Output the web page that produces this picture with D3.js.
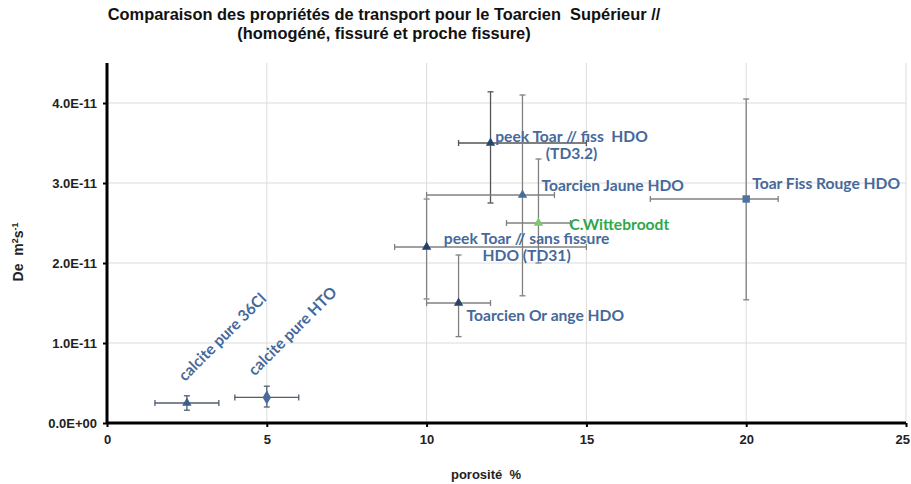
<!DOCTYPE html>
<html><head><meta charset="utf-8">
<script src="https://cdn.jsdelivr.net/npm/d3@7/dist/d3.min.js"></script>
<style>body{margin:0;background:#fff}</style>
</head><body>
<svg id="c" width="911" height="484"></svg>
<script>
// ---- data ----
const names = ["calcite pure 36Cl", "calcite pure HTO", "peek Toar // fiss  HDO|(TD3.2)", "Toarcien Jaune HDO", "C.Wittebroodt", "peek Toar // sans fissure|HDO (TD31)", "Toarcien Or ange HDO", "Toar Fiss Rouge HDO"];
const porosity = [2.5, 5, 12, 13, 13.5, 10, 11, 20];
const porosityErrMinus = [1, 1, 1, 3, 1, 1, 1, 3];
const porosityErrPlus = [1, 1, 3, 1, 1, 5, 1, 1];
const De = [0.25e-11, 0.32e-11, 3.5e-11, 2.85e-11, 2.5e-11, 2.2e-11, 1.5e-11, 2.8e-11];
const DeErrMinus = [0.09e-11, 0.12e-11, 0.75e-11, 1.26e-11, 0.5e-11, 0.65e-11, 0.42e-11, 1.26e-11];
const DeErrPlus = [0.09e-11, 0.14e-11, 0.64e-11, 1.25e-11, 0.8e-11, 0.6e-11, 0.6e-11, 1.25e-11];
const markerShapes = ["triangle", "diamond", "triangle", "triangle", "triangle", "triangle", "triangle", "square"];
const xTicks = [0, 5, 10, 15, 20, 25];
const yTicks = [0, 1e-11, 2e-11, 3e-11, 4e-11];
const yTickLabels = ["0.0E+00", "1.0E-11", "2.0E-11", "3.0E-11", "4.0E-11"];

// ---- layout / style ----
const labelLayout = [
  {dx: -2, dy: -21, anchor: "start", rotate: -45},
  {dx: -12, dy: -21, anchor: "start", rotate: -45},
  {dx: 81, dy: -1, anchor: "middle", lh: 17},
  {dx: 19, dy: -4, anchor: "start"},
  {dx: 31, dy: 7, anchor: "start", color: "#2ea84a"},
  {dx: 100, dy: -3, anchor: "middle", lh: 17},
  {dx: 8, dy: 18, anchor: "start"},
  {dx: 6, dy: -10, anchor: "start"}
];
const markerColors = ["#3d5f8c", "#4a6c9a", "#24496f", "#4a6c9a", "#7cc86a", "#24406a", "#2a4468", "#4f72a0"];
const barColors = ["#4f5d72", "#4f5d72", "#555", "#808080", "#808080", "#808080", "#808080", "#808080"];

const svg = d3.select("#c");
const L = 107, R = 906, T = 63, B = 423;
const x = d3.scaleLinear().domain([0, 25]).range([L, R]);
const y = d3.scaleLinear().domain([0, 4.5e-11]).range([B, T]);

// grid
svg.append("g").selectAll("line").data(xTicks.slice(1)).join("line")
  .attr("x1", d => x(d)).attr("x2", d => x(d)).attr("y1", B).attr("y2", T)
  .attr("stroke", "#dcdcdc").attr("stroke-width", 1);
svg.append("g").selectAll("line").data(yTicks.slice(1)).join("line")
  .attr("x1", L).attr("x2", R).attr("y1", d => y(d)).attr("y2", d => y(d))
  .attr("stroke", "#dcdcdc").attr("stroke-width", 1);

// axes
const fontTick = "'Liberation Sans', Arial, sans-serif";
const ax = svg.append("g").attr("transform", `translate(0,${B})`)
  .call(d3.axisBottom(x).tickValues(xTicks).tickSize(4).tickPadding(8).tickFormat(d3.format("d")));
const ay = svg.append("g").attr("transform", `translate(${L},0)`)
  .call(d3.axisLeft(y).tickValues(yTicks).tickSize(4).tickPadding(6).tickFormat((d, i) => yTickLabels[i]));
[ax, ay].forEach(g => {
  g.select(".domain").attr("stroke", "#000").attr("stroke-width", 3);
  g.selectAll(".tick line").attr("stroke", "#000").attr("stroke-width", 2);
  g.selectAll(".tick text").attr("font-family", fontTick).attr("font-weight", "bold")
    .attr("font-size", 13).attr("fill", "#222");
});
ax.selectAll(".tick text").filter(d => d === 25).attr("text-anchor", "end").attr("dx", 3.5);
ay.select(".domain").attr("d", `M0,${B}V${T}`);
ax.select(".domain").attr("d", `M${L},0H${R}`);

// error bars
const cap = 3;
const eb = svg.append("g");
names.forEach((n, i) => {
  const cx = x(porosity[i]), cy = y(De[i]);
  const x0 = x(porosity[i] - porosityErrMinus[i]), x1 = x(porosity[i] + porosityErrPlus[i]);
  const y0 = y(De[i] - DeErrMinus[i]), y1 = y(De[i] + DeErrPlus[i]);
  const c = barColors[i];
  const g = eb.append("g").attr("stroke", c).attr("stroke-width", 1.3);
  g.append("line").attr("x1", x0).attr("x2", x1).attr("y1", cy).attr("y2", cy);
  g.append("line").attr("x1", x0).attr("x2", x0).attr("y1", cy - cap).attr("y2", cy + cap);
  g.append("line").attr("x1", x1).attr("x2", x1).attr("y1", cy - cap).attr("y2", cy + cap);
  g.append("line").attr("x1", cx).attr("x2", cx).attr("y1", y0).attr("y2", y1);
  g.append("line").attr("x1", cx - cap).attr("x2", cx + cap).attr("y1", y0).attr("y2", y0);
  g.append("line").attr("x1", cx - cap).attr("x2", cx + cap).attr("y1", y1).attr("y2", y1);
});

// markers
const symType = {triangle: d3.symbolTriangle, diamond: d3.symbolDiamond, square: d3.symbolSquare};
const symSize = {triangle: 38, diamond: 60, square: 55};
svg.append("g").selectAll("path").data(names).join("path")
  .attr("transform", (d, i) => `translate(${x(porosity[i])},${y(De[i])})`)
  .attr("d", (d, i) => d3.symbol().type(symType[markerShapes[i]]).size(symSize[markerShapes[i]])())
  .attr("fill", (d, i) => markerColors[i]);

// point labels
const lab = svg.append("g").attr("font-family", "Lato, 'Open Sans', sans-serif")
  .attr("font-weight", "bold").attr("font-size", 15.6);
names.forEach((n, i) => {
  const lay = labelLayout[i];
  const px = x(porosity[i]) + lay.dx, py = y(De[i]) + lay.dy;
  const t = lab.append("text").attr("fill", lay.color || "#46699a")
    .attr("text-anchor", lay.anchor)
    .attr("transform", `translate(${px},${py})` + (lay.rotate ? ` rotate(${lay.rotate})` : ""));
  n.split("|").forEach((line, k) => {
    t.append("tspan").attr("x", 0).attr("dy", k === 0 ? 0 : lay.lh).attr("xml:space", "preserve").text(line);
  });
});

// title
const title = svg.append("text").attr("x", 384).attr("y", 20).attr("text-anchor", "middle")
  .attr("font-family", "'Liberation Sans Narrow', 'Arial Narrow', 'Liberation Sans', sans-serif")
  .attr("font-weight", "bold").attr("font-size", 16.4).attr("fill", "#111");
title.append("tspan").attr("x", 384).attr("xml:space", "preserve").text("Comparaison des propriétés de transport pour le Toarcien  Supérieur //");
title.append("tspan").attr("x", 384).attr("dy", 19).text("(homogéné, fissuré et proche fissure)");

// axis titles
svg.append("text").attr("x", 486).attr("y", 479).attr("text-anchor", "middle")
  .attr("font-family", fontTick).attr("font-weight", "bold").attr("font-size", 13).attr("fill", "#222")
  .attr("xml:space", "preserve").text("porosité  %");
const yl = svg.append("text").attr("transform", "translate(23,252) rotate(-90)").attr("text-anchor", "middle")
  .attr("font-family", fontTick).attr("font-weight", "bold").attr("font-size", 14).attr("fill", "#222");
yl.append("tspan").attr("xml:space", "preserve").text("De  m");
yl.append("tspan").attr("font-size", 9).attr("dy", -5).text("2");
yl.append("tspan").attr("dy", 5).text("s");
yl.append("tspan").attr("font-size", 9).attr("dy", -5).text("-1");
</script>
</body></html>
